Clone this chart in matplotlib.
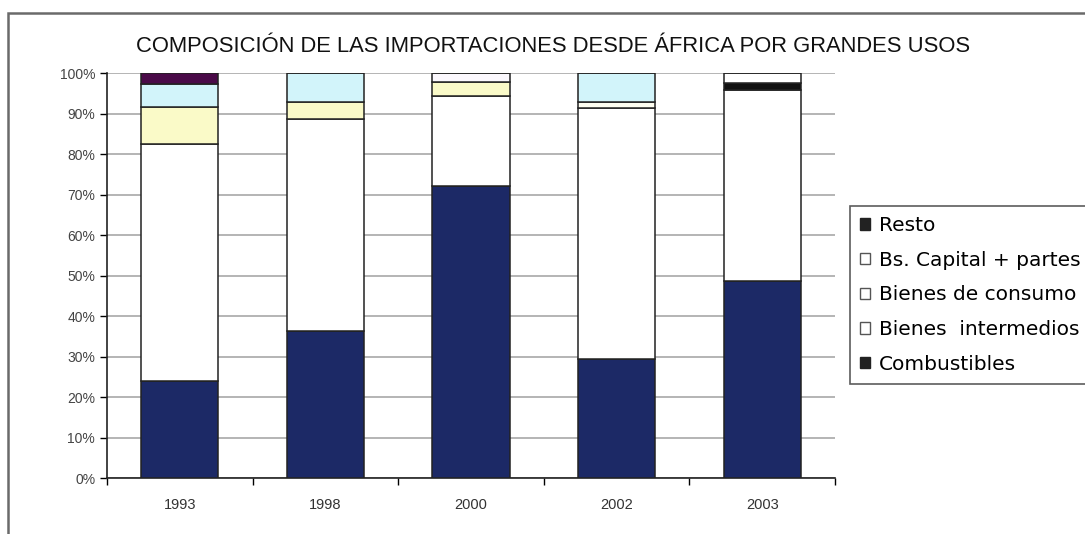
import numpy as np
import matplotlib.pyplot as plt
from matplotlib.patches import Rectangle, Patch

plt.rcParams['font.family'] = ['Liberation Sans', 'DejaVu Sans']

years = ['1993', '1998', '2000', '2002', '2003']
combustibles = [24.0, 36.4, 72.3, 29.4, 48.8]
intermedios = [58.6, 52.3, 22.2, 62.1, 47.1]
consumo = [9.0, 4.3, 3.5, 1.5, 1.7]
capital = [5.9, 7.0, 2.0, 7.0, 2.4]
resto = [2.5, 0.0, 0.0, 0.0, 0.0]

series = [
    ('Combustibles', combustibles, ['#1c2966'] * 5),
    ('Bienes  intermedios', intermedios, ['#ffffff'] * 5),
    ('Bienes de consumo', consumo, ['#fafac8'] * 3 + ['#fdfdf0', '#111111']),
    ('Bs. Capital + partes', capital, ['#d2f4fa', '#d2f4fa', '#fbf8fd', '#d2f4fa', '#ffffff']),
    ('Resto', resto, ['#4a0a48'] * 5),
]

fig = plt.figure(figsize=(10.85, 5.34), dpi=100)
ax = fig.add_axes([0.0986, 0.1043, 0.6710, 0.7581])

# outer chart frame (runs off the right and bottom edges)
fig.patches.append(Rectangle((8 / 1085, -0.2), 1.2, 1 - 13 / 534 + 0.2,
                             transform=fig.transFigure, fill=False,
                             edgecolor='#6a6a6a', linewidth=1.8, clip_on=False))

x = np.arange(len(years))
bottom = np.zeros(len(years))
for name, vals, cols in series:
    ax.bar(x, vals, width=0.53, bottom=bottom, color=cols,
           edgecolor='#222222', linewidth=1.1, zorder=3)
    bottom += np.array(vals)

ax.set_xlim(-0.5, len(years) - 0.5)
ax.set_ylim(0, 100)
ax.set_yticks(np.arange(0, 101, 10))
ax.set_yticklabels([f'{v}%' for v in range(0, 101, 10)])
ax.set_xticks(x)
ax.set_xticklabels(years)
ax.set_xticks(np.arange(-0.5, len(years)), minor=True)
ax.tick_params(axis='x', which='major', length=0, pad=14, labelsize=10.5, labelcolor='#333333')
ax.tick_params(axis='x', which='minor', length=5, width=1, direction='out')
ax.tick_params(axis='y', length=5, width=1, labelsize=10, labelcolor='#444444')

ax.yaxis.grid(True, color='#a8a8a8', linewidth=1.2, zorder=0)
ax.set_axisbelow(True)
for s in ['top', 'right']:
    ax.spines[s].set_visible(False)
for s in ['left', 'bottom']:
    ax.spines[s].set_linewidth(1.2)
    ax.spines[s].set_color('#222222')

fig.text(553 / 1085, 1 - 47 / 534, 'COMPOSICIÓN DE LAS IMPORTACIONES DESDE ÁFRICA POR GRANDES USOS',
         ha='center', va='center', fontsize=15.8, color='#111111')

handles = [
    Patch(facecolor='#222222', edgecolor='#222222', label='Resto'),
    Patch(facecolor='#ffffff', edgecolor='#555555', label='Bs. Capital + partes'),
    Patch(facecolor='#ffffff', edgecolor='#555555', label='Bienes de consumo'),
    Patch(facecolor='#ffffff', edgecolor='#555555', label='Bienes  intermedios'),
    Patch(facecolor='#222222', edgecolor='#222222', label='Combustibles'),
]
leg = fig.legend(handles=handles, loc='upper left',
                 bbox_to_anchor=(850 / 1085, 1 - 206 / 534),
                 frameon=True, fancybox=False,
                 prop={'family': 'DejaVu Sans', 'size': 14.5},
                 handlelength=0.5, handleheight=0.5, handletextpad=0.45,
                 labelspacing=0.78, borderpad=0.5, borderaxespad=0)
leg.get_frame().set_edgecolor('#333333')
leg.get_frame().set_linewidth(1.2)

fig.savefig('out.png', dpi=100)
